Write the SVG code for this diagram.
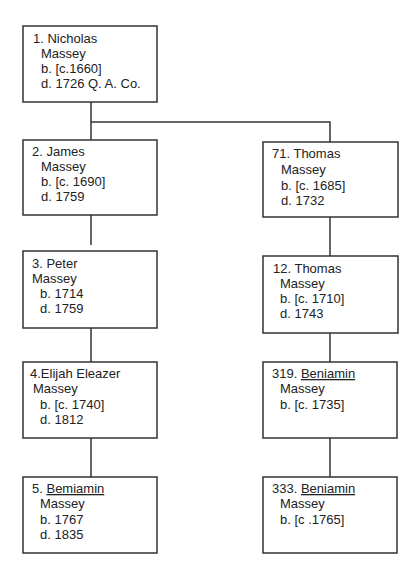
<svg xmlns="http://www.w3.org/2000/svg" width="420" height="580" viewBox="0 0 420 580">
<style>
.box{fill:#fff;stroke:#333;stroke-width:1.5}
.t{font-family:"Liberation Sans",Arial,sans-serif;font-size:13px;fill:#222}
.u{text-decoration:underline}
.c{stroke:#333;stroke-width:1.5;fill:none}
</style>
<rect width="420" height="580" fill="#fff"/>
<g id="connectors">
<path class="c" d="M91 102V140M91 122H330V142"/>
<path class="c" d="M91 215V245"/>
<path class="c" d="M330 217V256"/>
<path class="c" d="M91 328V362"/>
<path class="c" d="M330 333V362"/>
<path class="c" d="M91 438V477"/>
<path class="c" d="M330 438V477"/>
</g>
<g id="n1">
<rect class="box" x="23" y="26" width="134" height="76"/>
<text class="t" x="33" y="43">1. Nicholas</text>
<text class="t" x="41" y="58">Massey</text>
<text class="t" x="41" y="73">b. [c.1660]</text>
<text class="t" x="41" y="88">d. 1726 Q. A. Co.</text>
</g>
<g id="n2">
<rect class="box" x="23" y="140" width="134" height="75"/>
<text class="t" x="32" y="156">2. James</text>
<text class="t" x="41" y="171">Massey</text>
<text class="t" x="41" y="186">b. [c. 1690]</text>
<text class="t" x="41" y="201">d. 1759</text>
</g>
<g id="n71">
<rect class="box" x="263" y="142" width="135" height="75"/>
<text class="t" x="272" y="158">71. Thomas</text>
<text class="t" x="281" y="174">Massey</text>
<text class="t" x="281" y="190">b. [c. 1685]</text>
<text class="t" x="281" y="205">d. 1732</text>
</g>
<g id="n3">
<rect class="box" x="23" y="251" width="134" height="77"/>
<text class="t" x="32" y="268">3. Peter</text>
<text class="t" x="32" y="283">Massey</text>
<text class="t" x="40" y="298">b. 1714</text>
<text class="t" x="40" y="313">d. 1759</text>
</g>
<g id="n12">
<rect class="box" x="263" y="256" width="135" height="77"/>
<text class="t" x="273" y="273">12. Thomas</text>
<text class="t" x="280" y="288">Massey</text>
<text class="t" x="280" y="303">b. [c. 1710]</text>
<text class="t" x="280" y="318">d. 1743</text>
</g>
<g id="n4">
<rect class="box" x="23" y="362" width="134" height="76"/>
<text class="t" x="30" y="378">4.Elijah Eleazer</text>
<text class="t" x="33" y="393">Massey</text>
<text class="t" x="40" y="409">b. [c. 1740]</text>
<text class="t" x="40" y="424">d. 1812</text>
</g>
<g id="n319">
<rect class="box" x="263" y="362" width="134" height="76"/>
<text class="t" x="272" y="378">319. <tspan class="u">Beniamin</tspan></text>
<text class="t" x="280" y="393">Massey</text>
<text class="t" x="280" y="409">b. [c. 1735]</text>
</g>
<g id="n5">
<rect class="box" x="23" y="477" width="134" height="76"/>
<text class="t" x="32" y="493">5. <tspan class="u">Bemiamin</tspan></text>
<text class="t" x="40" y="508">Massey</text>
<text class="t" x="40" y="524">b. 1767</text>
<text class="t" x="40" y="539">d. 1835</text>
</g>
<g id="n333">
<rect class="box" x="263" y="477" width="134" height="76"/>
<text class="t" x="272" y="493">333. <tspan class="u">Beniamin</tspan></text>
<text class="t" x="280" y="508">Massey</text>
<text class="t" x="280" y="524">b. [c .1765]</text>
</g>
</svg>
